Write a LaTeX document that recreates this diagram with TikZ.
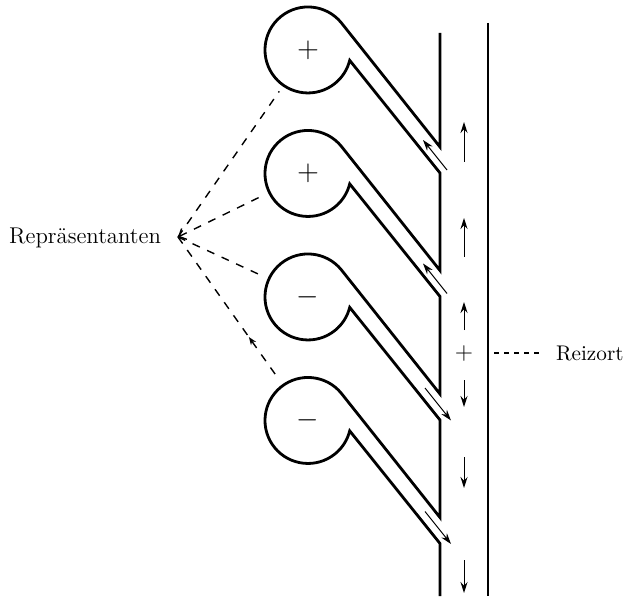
\documentclass[tikz,border=0pt]{standalone}
\usepackage{fontspec}
\usetikzlibrary{arrows.meta,decorations.markings}
\tikzset{
	wall/.style={line width=1.4pt, line join=miter},
	flow/.style={line width=0.5pt, -{Stealth[length=5.5pt,width=3.5pt]}},
	link/.style={line width=0.7pt, dash pattern=on 4pt off 4pt, shorten >=3.5pt},
	cell/.style={circle, minimum size=43pt, inner sep=0pt, font=\fontsize{15}{15}\selectfont},
	sign/.style={inner sep=0pt, font=\fontsize{13}{13}\selectfont},
	lbl/.style={font=\fontsize{10.6}{12}\selectfont}
}
\begin{document}
\begin{tikzpicture}[x=0.5pt,y=-0.5pt]
	\useasboundingbox (0,0) rectangle (624,603);
	% left wall of the channel with the four cells
	\draw[wall] (440,33) \foreach \i in {0,...,3} {
		-- (440,147+123.5*\i) -- (341.4,22.9+123.5*\i)
		arc[start angle=-39, end angle=-346, radius=43]
		-- (440,173+123.5*\i)} -- (440,596);
	\draw[wall] (488,23) -- (488,596);
	\foreach \s [count=\i] in {+,+,-,-}
		\node[cell] (c\i) at (308,50+123.5*\i-123.5) {$\s$};
	% arrows in the tubes
	\foreach \i in {0,1}
		\draw[flow] (447,170+123.5*\i) -- (423,140+123.5*\i);
	\foreach \i in {2,3}
		\draw[flow] (425,141+123.5*\i) -- (451,173.5+123.5*\i);
	% arrows in the channel
	\foreach \a/\b in {162/122, 257/218, 330/302, 380/407, 457/488, 560/593}
		\draw[flow] (464,\a) -- (464,\b);
	\node[sign] (stim) at (464,353) {$+$};
	\coordinate (w) at (494,353);
	\node[lbl, anchor=west] (rz) at (549,353) {Reizort};
	\draw[link, dash pattern=on 2.5pt off 2.5pt, shorten >=5pt] (w) -- (rz.west);
	\node[lbl, font=\fontsize{11.4}{13}\selectfont, anchor=east] (rep) at (168,238) {Repräsentanten};
	\coordinate (conv) at (178,237);
	\draw[link] (conv) -- (c1);
	\draw[link, {Straight Barb[length=3pt,width=6pt]}-] (conv) -- (c2);
	\draw[link] (conv) -- (c3);
	\draw[link, postaction={decorate}, decoration={markings,
		mark=at position 0.72 with {\arrow{Stealth[reversed,length=4pt,width=3pt]}}}] (conv) -- (c4);
\end{tikzpicture}
\end{document}
